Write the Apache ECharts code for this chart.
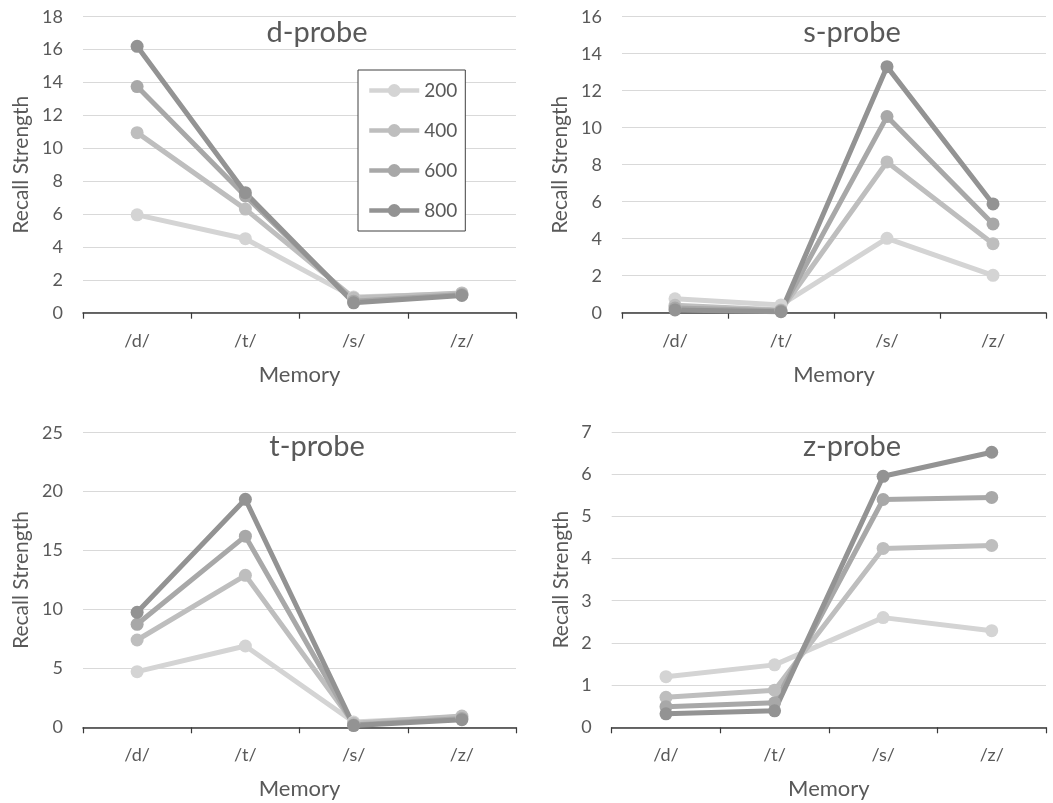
<!DOCTYPE html>
<html><head><meta charset="utf-8">
<script src="https://cdn.jsdelivr.net/npm/echarts@6/dist/echarts.min.js"></script>
<style>html,body{margin:0;padding:0;background:#fff}#c{width:1053px;height:803px}</style>
</head><body><div id="c"></div>
<script>
const categories = ['/d/', '/t/', '/s/', '/z/'];
const seriesNames = ['200', '400', '600', '800'];
const panelTitles = ['d-probe', 's-probe', 't-probe', 'z-probe'];
// values per panel, per series (200,400,600,800), per category (/d/,/t/,/s/,/z/)
const dProbe200 = [5.95, 4.5, 0.95, 1.15];
const dProbe400 = [10.95, 6.3, 0.9, 1.2];
const dProbe600 = [13.75, 7.1, 0.7, 1.1];
const dProbe800 = [16.2, 7.3, 0.6, 1.05];
const sProbe200 = [0.75, 0.42, 4.02, 2.02];
const sProbe400 = [0.4, 0.15, 8.15, 3.73];
const sProbe600 = [0.25, 0.1, 10.6, 4.8];
const sProbe800 = [0.15, 0.05, 13.3, 5.88];
const tProbe200 = [4.72, 6.9, 0.45, 0.9];
const tProbe400 = [7.41, 12.9, 0.35, 0.95];
const tProbe600 = [8.74, 16.22, 0.2, 0.75];
const tProbe800 = [9.76, 19.35, 0.15, 0.65];
const zProbe200 = [1.2, 1.48, 2.6, 2.29];
const zProbe400 = [0.71, 0.88, 4.24, 4.31];
const zProbe600 = [0.49, 0.58, 5.4, 5.45];
const zProbe800 = [0.32, 0.39, 5.95, 6.52];
const yMax = [18, 16, 25, 7];
const yInterval = [2, 2, 5, 1];

const panels = [
  [dProbe200, dProbe400, dProbe600, dProbe800],
  [sProbe200, sProbe400, sProbe600, sProbe800],
  [tProbe200, tProbe400, tProbe600, tProbe800],
  [zProbe200, zProbe400, zProbe600, zProbe800]
];
const colors = ['#d4d4d4', '#bebebe', '#a8a8a8', '#939393'];
const txt = '#595959';
const FONT = 'Lato';

const grids = [
  {left: 83, top: 16.7, width: 433, height: 296},
  {left: 622, top: 16.7, width: 424, height: 296},
  {left: 83, top: 432.7, width: 433, height: 294.6},
  {left: 611.7, top: 432, width: 434.3, height: 295.3}
];
const yNameGap = [51, 51, 51, 40];
const titlePos = [[317, 18], [852, 18], [317, 432], [852, 432]];

const chart = echarts.init(document.getElementById('c'));
const option = {
  backgroundColor: '#fff',
  animation: false,
  textStyle: {fontFamily: FONT},
  title: panelTitles.map((t, i) => ({
    text: t, left: titlePos[i][0], top: titlePos[i][1], textAlign: 'center',
    padding: 0,
    textStyle: {color: txt, fontSize: 29, fontWeight: 'normal', fontFamily: FONT}
  })),
  legend: {
    data: seriesNames,
    orient: 'vertical',
    left: 358, top: 70,
    padding: [11, 8, 11, 9],
    itemGap: 21,
    itemWidth: 50, itemHeight: 16,
    itemTextGap: 4,
    borderColor: '#404040', borderWidth: 1,
    backgroundColor: '#fff',
    lineStyle: {width: 4.5},
    textStyle: {color: txt, fontSize: 19, fontFamily: FONT}
  },
  grid: grids.map(g => Object.assign({containLabel: false}, g)),
  xAxis: grids.map((g, i) => ({
    type: 'category', gridIndex: i, data: categories,
    boundaryGap: true,
    name: 'Memory', nameLocation: 'middle', nameGap: 51,
    nameTextStyle: {color: txt, fontSize: 22, fontFamily: FONT},
    axisLine: {lineStyle: {color: '#3a3a3a', width: 1.5}},
    axisTick: {show: true, length: 6, lineStyle: {color: '#3a3a3a', width: 1.2}},
    axisLabel: {color: txt, fontSize: 18, margin: 19, fontFamily: FONT},
    splitLine: {show: false}
  })),
  yAxis: grids.map((g, i) => ({
    type: 'value', gridIndex: i, min: 0, max: yMax[i], interval: yInterval[i],
    name: 'Recall Strength', nameLocation: 'middle', nameGap: yNameGap[i],
    nameTextStyle: {color: txt, fontSize: 21, fontFamily: FONT},
    axisLine: {show: false}, axisTick: {show: false},
    axisLabel: {color: txt, fontSize: 18, margin: 20, fontFamily: FONT},
    splitLine: {lineStyle: {color: '#d9d9d9', width: 1}}
  })),
  series: []
};
panels.forEach((p, i) => {
  p.forEach((vals, k) => {
    option.series.push({
      type: 'line', name: seriesNames[k], xAxisIndex: i, yAxisIndex: i,
      data: vals, symbol: 'circle', symbolSize: 13,
      lineStyle: {color: colors[k], width: 5},
      itemStyle: {color: colors[k]},
      color: colors[k]
    });
  });
});
chart.setOption(option);
</script></body></html>
